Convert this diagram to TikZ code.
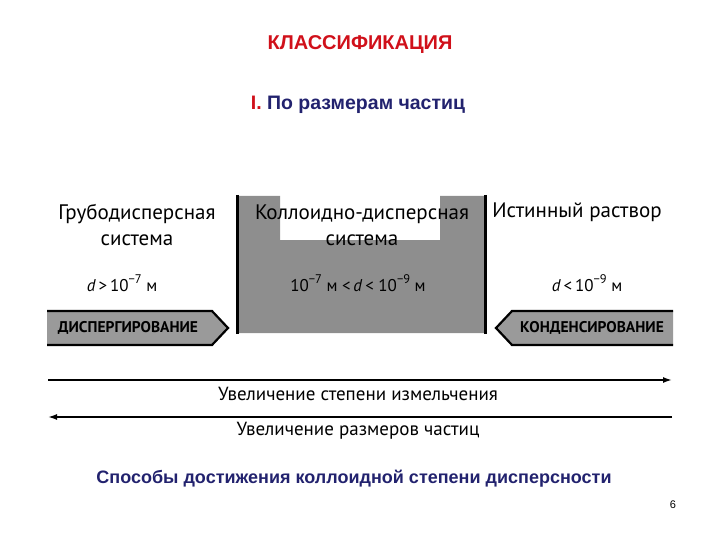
\documentclass[tikz,border=0pt]{standalone}
\usepackage{fontspec}
\setmainfont{Liberation Sans}
\newfontfamily\book{PT Sans}
\usetikzlibrary{arrows.meta}
\definecolor{tred}{HTML}{D0101A}
\definecolor{tnavy}{HTML}{22226E}
\definecolor{blockgray}{HTML}{8E8E8E}
\definecolor{arrgray}{HTML}{9A9A9A}
\newcommand{\supr}[1]{\raisebox{0.5em}{\fontsize{12.5}{14}\selectfont #1}}
\tikzset{
  booktext/.style={font=\book\fontsize{21}{26}\selectfont, align=center, inner sep=0pt},
  linetext/.style={font=\book\fontsize{19}{22}\selectfont, align=center, inner sep=0pt},
  sizetext/.style={font=\book\fontsize{17}{20}\selectfont, inner sep=0pt},
  arrlabel/.style={font=\book\bfseries\fontsize{15.5}{17}\selectfont, inner sep=0pt},
  pentagon/.style={fill=arrgray, draw=black, line width=2.2pt, line join=miter},
  bigline/.style={line width=1.6pt, -{Latex[length=9pt,width=6pt]}},
}
\begin{document}
\begin{tikzpicture}[x=1pt,y=-1pt]
\useasboundingbox (0,0) rectangle (720,540);
% titles
\node[font=\bfseries\fontsize{20}{24}\selectfont, text=tred, inner sep=0pt] (title) at (360,45) {КЛАССИФИКАЦИЯ};
\node[font=\bfseries\fontsize{19.5}{24}\selectfont, inner sep=0pt] (sub) at (358,105) {\textcolor{tred}{I.} \textcolor{tnavy}{По размерам частиц}};
% central gray block with notch
\fill[blockgray] (237,196) -- (280,196) -- (280,240) -- (440,240) -- (440,196) -- (485,196) -- (485,333) -- (237,333) -- cycle;
\draw[line width=3pt] (237,195) -- (237,334);
\draw[line width=3pt] (485,195) -- (485,334);
% texts
\node[booktext] (coarse) at (137,225) {Грубодисперсная\\система};
\node[booktext] (colloid) at (362,225) {Коллоидно-дисперсная\\система};
\node[booktext] (true) at (577,212) {Истинный раствор};
\node[sizetext] (d1) at (122,283) {\textit{d}\,>\,10\supr{−7} м};
\node[sizetext] (d2) at (358,283) {10\supr{−7} м <\,\textit{d}\,< 10\supr{−9} м};
\node[sizetext] (d3) at (587,283) {\textit{d}\,<\,10\supr{−9} м};
% pentagon arrows
\draw[pentagon] (47,311) -- (212,311) -- (228,328) -- (212,345) -- (47,345);
\node[arrlabel] (disp) at (128,328) {ДИСПЕРГИРОВАНИЕ};
\draw[pentagon] (673,311) -- (512,311) -- (496,328) -- (512,345) -- (673,345);
\node[arrlabel] (cond) at (592,328) {КОНДЕНСИРОВАНИЕ};
% long arrows
\coordinate (l1a) at (48,380);
\coordinate (l1b) at (672,380);
\coordinate (l2a) at (672,417);
\coordinate (l2b) at (48,417);
\draw[bigline] (l1a) -- (l1b);
\draw[bigline] (l2a) -- (l2b);
\node[linetext] (inc1) at (358,394) {Увеличение степени измельчения};
\node[linetext] (inc2) at (358,431) {Увеличение размеров частиц};
% bottom
\node[font=\bfseries\fontsize{18}{22}\selectfont, text=tnavy, inner sep=0pt] (ways) at (354,479) {Способы достижения коллоидной степени дисперсности};
\node[font=\fontsize{11}{13}\selectfont, inner sep=0pt] (page) at (673,505) {6};
\end{tikzpicture}
\end{document}
